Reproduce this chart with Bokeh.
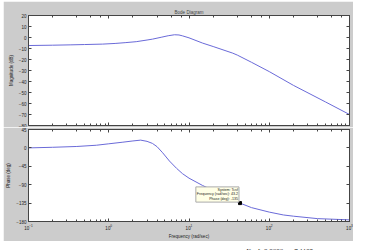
from bokeh.plotting import figure
from bokeh.layouts import column, row
from bokeh.models import (LogAxis, LinearAxis, FixedTicker, Label, Spacer, Range1d,
                          CustomJSTickFormatter, Div)
from bokeh.embed import file_html
from bokeh.resources import INLINE

# ---- data ----
mag_freq = [0.1, 0.2, 0.33, 0.5, 0.84, 1.2, 1.6, 2.2, 3.0, 3.5, 4.5, 5.5, 6.6, 7.5, 8.3, 10, 14.8, 20, 35, 40, 60, 100, 200, 500, 1000]
mag_db = [-7.3, -7.0, -6.7, -6.4, -6.0, -5.4, -4.7, -3.8, -2.3, -1.5, 0.2, 1.6, 2.5, 2.3, 1.5, -0.3, -5.1, -8.2, -14.2, -16.0, -22.5, -31.0, -43.5, -58.5, -70.0]

phase_freq = [0.1, 0.2, 0.4, 0.7, 1.0, 1.5, 2.0, 2.5, 3.0, 3.5, 4.0, 4.7, 5.7, 7.0, 8.3, 10, 14.8, 20, 30, 43.2, 60, 100, 150, 200, 400, 1000]
phase_deg = [0, 1.5, 3.5, 6.5, 10, 14, 17, 19, 16, 11, 3, -12, -32, -50, -63, -74, -92, -104, -120, -135, -146, -157, -164, -167, -173, -176]

mag_ticks = [20, 10, 0, -10, -20, -30, -40, -50, -60, -70, -80]
phase_ticks = [45, 0, -45, -90, -135, -180]
marker_freq = [43.2]
marker_phase = [-135]
tip_text = "System: Tcsf\nFrequency (rad/sec): 43.2\nPhase (deg): -135"
title_text = "Bode Diagram"
mag_label = "Magnitude (dB)"
phase_label = "Phase (deg)"
freq_label = "Frequency (rad/sec)"
gain_text = "<i>K</i> = [&nbsp;&nbsp;0.0606&nbsp;&nbsp;&nbsp;&nbsp;\u22127.1105&nbsp;&nbsp;&nbsp;&nbsp;&nbsp;\u2212"

GRAY = "#cccccc"
LINE = "#6a6ad8"
FONT = "Liberation Sans"
FS = "4.5px"


def style_axis(ax, labels=True):
    ax.axis_line_color = "#444444"
    ax.major_tick_line_color = "#444444"
    ax.minor_tick_line_color = "#444444"
    ax.major_tick_in = 3
    ax.major_tick_out = 0
    ax.minor_tick_in = 2
    ax.minor_tick_out = 0
    ax.major_label_text_font = FONT
    ax.major_label_text_color = "#222222"
    ax.major_label_text_font_size = FS
    ax.axis_label_text_font = FONT
    ax.axis_label_text_font_size = FS
    ax.axis_label_text_font_style = "normal"
    ax.axis_label_text_color = "#222222"
    ax.major_label_standoff = 2
    ax.axis_label_standoff = 2
    if not labels:
        ax.formatter = CustomJSTickFormatter(code="return '';")
        ax.major_label_standoff = 0


def make_fig(height, yr, ticks, top, bottom, xlabels):
    p = figure(width=350, height=height, x_axis_type="log",
               x_range=Range1d(0.1, 1000), y_range=Range1d(*yr),
               min_border_left=23, min_border_right=4,
               min_border_top=top, min_border_bottom=bottom,
               toolbar_location=None, output_backend="svg")
    p.background_fill_color = "white"
    p.border_fill_color = GRAY
    p.outline_line_color = "#333333"
    p.grid.visible = False
    bottom_ax = p.below[0]
    left_ax = p.left[0]
    left_ax.ticker = FixedTicker(ticks=ticks)
    style_axis(bottom_ax, labels=xlabels)
    style_axis(left_ax)
    left_ax.minor_tick_line_color = None
    ax_top = LogAxis()
    style_axis(ax_top, labels=False)
    p.add_layout(ax_top, "above")
    ax_right = LinearAxis(ticker=FixedTicker(ticks=ticks))
    style_axis(ax_right, labels=False)
    ax_right.minor_tick_line_color = None
    p.add_layout(ax_right, "right")
    return p, bottom_ax, left_ax


# magnitude panel
p1, b1, l1 = make_fig(126, (-80, 20), mag_ticks, 14, 2, False)
l1.axis_label = mag_label
p1.title.text = title_text
p1.title.text_font = FONT
p1.title.text_font_size = FS
p1.title.text_font_style = "normal"
p1.title.align = "center"
p1.title.standoff = 1
p1.line(mag_freq, mag_db, line_color=LINE, line_width=1)

# phase panel
p2, b2, l2 = make_fig(114, (-180, 45), phase_ticks, 2, 15, True)
l2.axis_label = phase_label
b2.axis_label = freq_label
b2.axis_label_standoff = 1
p2.line(phase_freq, phase_deg, line_color=LINE, line_width=1)
p2.scatter(marker_freq, marker_phase, marker="square", size=3, color="black")
p2.add_layout(Label(x=marker_freq[0], y=marker_phase[0], text=tip_text,
                    x_offset=-1, y_offset=1,
                    text_align="right", text_baseline="bottom",
                    text_font=FONT, text_font_size="3.6px", text_color="#222222",
                    text_line_height=1.15,
                    background_fill_color="#ffffe6",
                    border_line_color="#aaaaaa", border_line_width=1,
                    padding=1))

# text strip below the figure (document text under the screenshot)
note = Div(text=('<div style="margin:0 0 0 246px;padding:0;font-family:\'Liberation Serif\';'
                 'font-size:7px;line-height:9px;white-space:nowrap;color:#111;">'
                 + gain_text + '</div>'),
           width=385, height=9, margin=(0, 0, 0, 0),
           styles={"overflow": "hidden", "background": "white"})

left = column(Spacer(height=1), p1, p2, spacing=0)
top_row = row(Spacer(width=3), left, Spacer(width=32), spacing=0)
page = column(top_row, note, spacing=0)

open("out.html", "w").write(file_html(page, INLINE))
